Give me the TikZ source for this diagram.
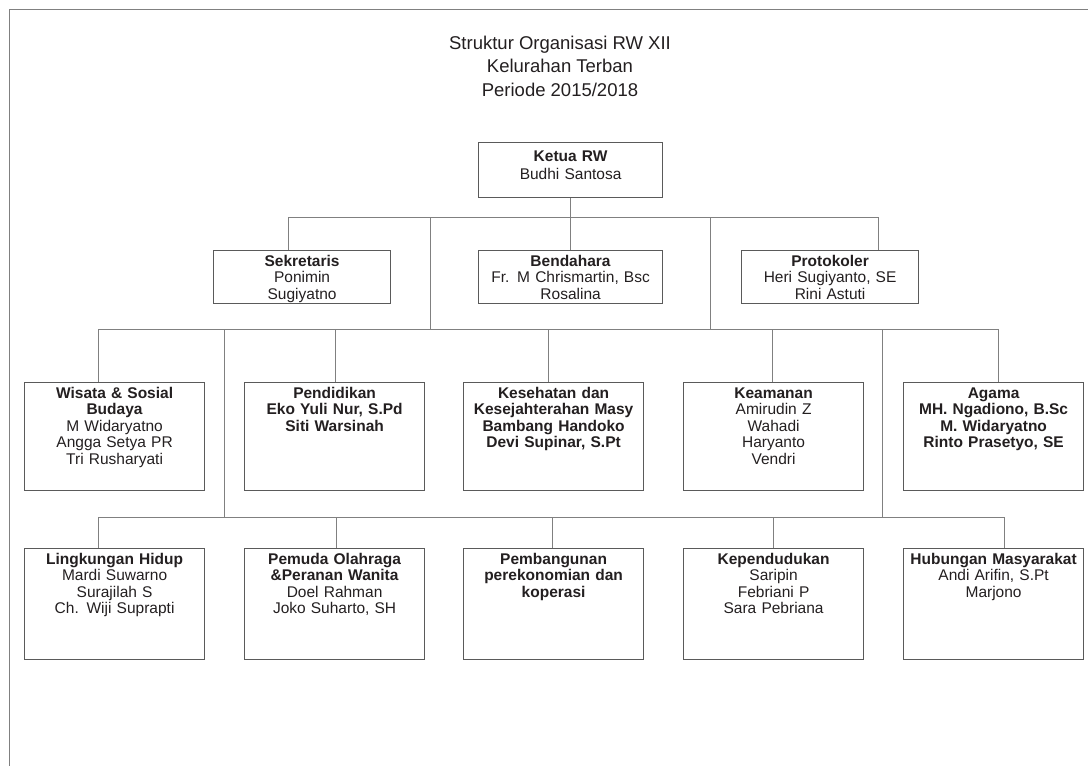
\documentclass[tikz,border=0pt]{standalone}
\usepackage{fontspec}
\setmainfont{Liberation Sans}
\definecolor{wire}{HTML}{808080}
\definecolor{boxline}{HTML}{5A5A5A}
\definecolor{ink}{HTML}{231F20}
\begin{document}
\begin{tikzpicture}[x=1pt,y=-1pt,
    wire/.style={draw=wire, line width=1pt},
    unit/.style 2 args={draw=boxline, line width=1.2pt, anchor=north west,
      inner xsep=0pt, inner ysep=4pt, text width=#1, align=center,
      text height=11.5pt, text depth=#2, text=ink,
      font=\fontsize{15.5}{16.5}\selectfont},
    title/.style={align=center, text=ink, font=\fontsize{18.5}{23.5}\selectfont}]
    \useasboundingbox (0,0) rectangle (1088,766);
    \draw[wire] (9,766) -- (9,9) -- (1088,9);

    % judul
    \node[title, anchor=base] (judul) at (560,96)
      {Struktur Organisasi RW XII\\Kelurahan Terban\\Periode 2015/2018};

    % pengurus inti
    \node[unit={184pt}{32.5pt}, text height=14.5pt, font=\fontsize{15.5}{18.5}\selectfont] (ketua) at (478,142)
      {\textbf{Ketua RW}\\Budhi Santosa};
    \node[unit={177pt}{33.5pt}] (sekre) at (213,250) {\textbf{Sekretaris}\\Ponimin\\Sugiyatno};
    \node[unit={184pt}{33.5pt}] (benda) at (478,250) {\textbf{Bendahara}\\Fr. M Chrismartin, Bsc\\Rosalina};
    \node[unit={177pt}{33.5pt}] (proto) at (741,250) {\textbf{Protokoler}\\Heri Sugiyanto, SE\\Rini Astuti};

    % seksi baris pertama
    \node[unit={180pt}{88.5pt}] (wisata) at (24,382)
      {\textbf{Wisata \& Sosial}\\\textbf{Budaya}\\M Widaryatno\\Angga Setya PR\\Tri Rusharyati};
    \node[unit={180pt}{88.5pt}, font=\fontsize{15.5}{16.5}\selectfont\bfseries] (didik) at (244,382)
      {Pendidikan\\Eko Yuli Nur, S.Pd\\Siti Warsinah};
    \node[unit={180pt}{88.5pt}, font=\fontsize{15.5}{16.5}\selectfont\bfseries] (sehat) at (463,382)
      {Kesehatan dan\\Kesejahterahan Masy\\Bambang Handoko\\Devi Supinar, S.Pt};
    \node[unit={180pt}{88.5pt}] (aman) at (683,382)
      {\textbf{Keamanan}\\Amirudin Z\\Wahadi\\Haryanto\\Vendri};
    \node[unit={180pt}{88.5pt}, font=\fontsize{15.5}{16.5}\selectfont\bfseries] (agama) at (903,382)
      {Agama\\MH. Ngadiono, B.Sc\\M. Widaryatno\\Rinto Prasetyo, SE};

    % seksi baris kedua
    \node[unit={180pt}{91.5pt}] (hidup) at (24,548)
      {\textbf{Lingkungan Hidup}\\Mardi Suwarno\\Surajilah S\\Ch. Wiji Suprapti};
    \node[unit={180pt}{91.5pt}] (pemuda) at (244,548)
      {\textbf{Pemuda Olahraga}\\\textbf{\&Peranan Wanita}\\Doel Rahman\\Joko Suharto, SH};
    \node[unit={180pt}{91.5pt}, font=\fontsize{15.5}{16.5}\selectfont\bfseries] (bangun) at (463,548)
      {Pembangunan\\perekonomian dan\\koperasi};
    \node[unit={180pt}{91.5pt}] (duduk) at (683,548)
      {\textbf{Kependudukan}\\Saripin\\Febriani P\\Sara Pebriana};
    \node[unit={180pt}{91.5pt}] (humas) at (903,548)
      {\textbf{Hubungan Masyarakat}\\Andi Arifin, S.Pt\\Marjono};

    % titik cabang
    \coordinate (t1) at (288,217);
    \coordinate (t2) at (878,217);
    \coordinate (d1) at (430,217);
    \coordinate (d2) at (710,217);
    \coordinate (m1) at (98,329);
    \coordinate (m2) at (998,329);
    \coordinate (e1) at (224,329);
    \coordinate (e2) at (882,329);
    \coordinate (b1) at (98,517);
    \coordinate (b2) at (1004,517);

    % garis komando
    \draw[wire] (ketua) -- (benda);
    \draw[wire] (t1) -- (t2);
    \draw[wire] (t1) -- (t1 |- sekre.north);
    \draw[wire] (t2) -- (t2 |- proto.north);
    \draw[wire] (d1) -- (d1 |- m1);
    \draw[wire] (d2) -- (d2 |- m1);
    \draw[wire] (m1) -- (m2);
    \draw[wire] (e1) -- (e1 |- b1);
    \draw[wire] (e2) -- (e2 |- b1);
    \draw[wire] (b1) -- (b2);
    \foreach \x/\n in {98/wisata, 335/didik, 548/sehat, 772/aman, 998/agama}
      \draw[wire] (\x,329) -- (\x,0 |- \n.north);
    \foreach \x/\n in {98/hidup, 336/pemuda, 552/bangun, 773/duduk, 1004/humas}
      \draw[wire] (\x,517) -- (\x,0 |- \n.north);
\end{tikzpicture}
\end{document}
